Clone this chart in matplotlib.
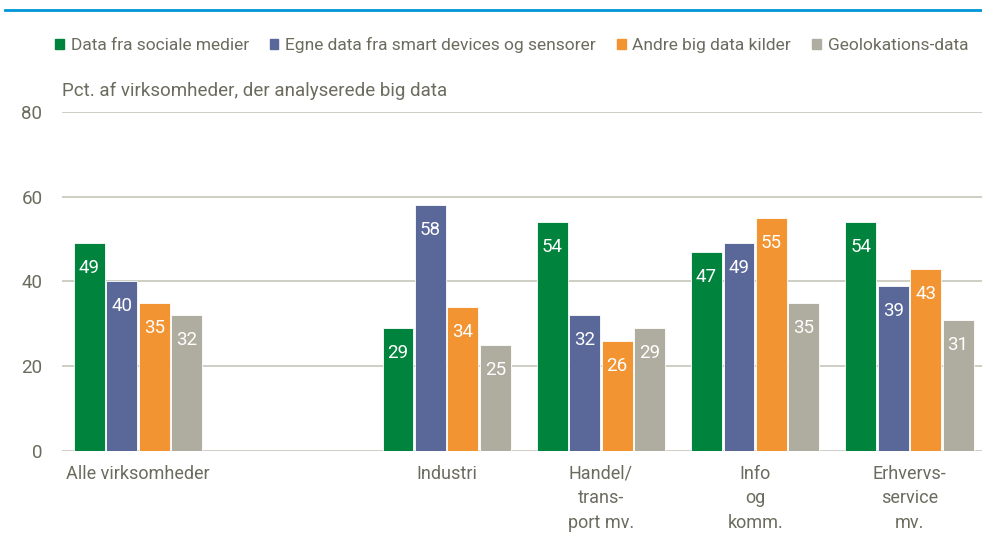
import matplotlib.pyplot as plt
from matplotlib.lines import Line2D
from matplotlib.patches import Patch

plt.rcParams['font.family'] = ['Roboto', 'DejaVu Sans']
plt.rcParams['font.stretch'] = 'condensed'

# data
groups = ['Alle virksomheder', 'Industri', 'Handel/\ntrans-\nport mv.', 'Info\nog\nkomm.', 'Erhvervs-\nservice\nmv.']
slots = [0, 2, 3, 4, 5]
series = ['Data fra sociale medier', 'Egne data fra smart devices og sensorer',
          'Andre big data kilder', 'Geolokations-data']
sociale = [49, 29, 54, 47, 54]
egne = [40, 58, 32, 49, 39]
andre = [35, 34, 26, 55, 43]
geo = [32, 25, 29, 35, 31]
values = [sociale, egne, andre, geo]
colors = ['#00843D', '#5A6799', '#F29432', '#AEAD9F']
txt = '#6B6B5E'

fig = plt.figure(figsize=(9.82, 5.34), dpi=100)
ax = fig.add_axes([0.063, 0.1554, 0.937, 0.6349])

w = 0.2
step = 0.21
for i, (vals, c) in enumerate(zip(values, colors)):
    xs = [s + (i - 1.5) * step for s in slots]
    bars = ax.bar(xs, vals, width=w, color=c, edgecolor='white', linewidth=0.6, zorder=3)
    for b, v in zip(bars, vals):
        ax.annotate(str(v), (b.get_x() + b.get_width() / 2, v), xytext=(0, -18),
                    textcoords='offset points', ha='center', va='center',
                    color='white', fontsize=13.5, zorder=4)

ax.set_xlim(-0.494, 5.47)
ax.set_ylim(0, 80)
ax.set_yticks([0, 20, 40, 60, 80])
ax.grid(axis='y', color='#CACAC0', linewidth=1.3, zorder=0)
for s in ax.spines.values():
    s.set_visible(False)
ax.tick_params(axis='y', length=0, labelsize=13.5, labelcolor=txt, pad=14)
ax.set_xticks(slots)
ax.set_xticklabels(groups, fontsize=13, color=txt, linespacing=1.45)
ax.tick_params(axis='x', length=0, pad=10)

fig.text(0.063, 0.83, 'Pct. af virksomheder, der analyserede big data', fontsize=13.5, color=txt, va='center')

handles = [Patch(color=c) for c in colors]
fig.legend(handles, series, loc='center left', bbox_to_anchor=(0.04, 0.915), ncol=4,
           frameon=False, fontsize=12.5, labelcolor=txt, handlelength=0.5, handleheight=0.5,
           handletextpad=0.4, columnspacing=1.2)

fig.add_artist(Line2D([0.005, 1.0], [0.982, 0.982], color='#0095D6', linewidth=2, transform=fig.transFigure))

fig.savefig('out.png', dpi=100)
